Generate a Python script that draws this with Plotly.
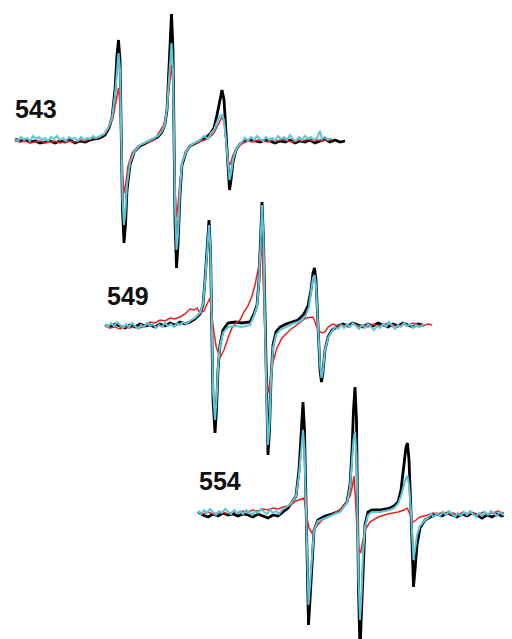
import plotly.graph_objects as go

# Spectra: (field position, signal) pairs, one list per trace.
# Group labels
LABELS = ["543", "549", "554"]

G543_BLACK = [(15,139),(20,141),(25,140),(30,142),(35,141),(40,143),(45,142),(50,141),(55,143),(60,141),(65,142),(70,140),(75,143),(80,141),(85,142),(90,140),(95,139),(100,138),
              (105,135),(109,128),(112,118),(115,90),(117,55),(118.5,40),(120,60),(121,140),(122.5,210),(124,243),(125.5,225),(127,190),(130,165),(134,152),(140,146),(148,142),(155,139),
              (158,137),(162,132),(165,124),(167,110),(169,70),(170.5,30),(171.5,14),(173,50),(174,140),(175,220),(176.5,268),(178,245),(180,195),(182,165),(186,152),(190,146),(196,143),
              (200,141),(205,138),(210,134),(214,128),(217,115),(220,98),(222,90),(224,100),(226,135),(228,175),(229.5,190),(231,180),(233,162),(236,150),(240,144),
              (245,141),(250,140),(255,141),(260,142),(265,140),(270,141),(275,143),(280,141),(285,142),(290,140),(295,143),(300,141),(305,142),(310,140),(315,143),(320,141),(325,139),(330,142),(335,140),(340,142),(345,141)]

G543_RED = [(15,141),(20,142),(25,141),(30,143),(35,142),(40,141),(45,143),(50,142),(55,141),(60,143),(65,142),(70,141),(75,142),(80,140),(85,141),(90,139),(95,138),(100,137),
            (105,134),(109,127),(113,118),(116,100),(118.5,88),(120,105),(121,140),(122.5,175),(124,193),(126,182),(128,166),(132,153),(138,146),(145,143),(152,141),(157,136),
            (160,131),(164,124),(167,110),(169,90),(170.5,70),(171.5,65),(173,85),(174,140),(175,190),(176.5,217),(178,205),(180,180),(183,160),(187,150),(192,145),(198,142),
            (205,140),(210,137),(214,133),(217,127),(220,120),(222,117),(224,122),(226,140),(228,160),(229.5,165),(231,162),(233,155),(238,147),
            (243,143),(248,141),(253,142),(258,140),(263,141),(268,142),(273,140),(278,141),(283,139),(288,141),(293,142),(298,140),(303,141),(308,139),(313,141),(318,140),(323,141),(328,139),(333,140)]

G543_CYAN = [(15,139),(18,141),(21,137),(24,140),(27,138),(30,141),(33,136),(36,139),(39,137),(42,140),(45,138),(48,141),(51,137),(54,139),(57,136),(60,140),(63,138),(66,141),(69,137),(72,139),(75,138),(78,141),(81,137),(84,140),(87,138),(90,139),(93,136),(96,138),(100,136),
             (104,134),(108,128),(112,118),(115,95),(117,65),(118.5,53),(120,70),(121,140),(122.5,200),(124,225),(125.5,210),(127,185),(130,163),(134,152),(140,145),(148,141),(155,138),
             (158,136),(162,131),(165,124),(167,108),(169,75),(170.5,50),(171.5,43),(173,70),(174,140),(175,205),(176.5,250),(178,235),(180,190),(182,163),(186,152),(190,146),(196,142),
             (200,140),(204,136),(208,139),(211,133),(214,130),(217,122),(220,116),(222,115),(224,120),(226,140),(228,168),(229.5,180),(231,174),(233,160),(236,150),(239,145),
             (242,142),(245,138),(248,141),(251,137),(254,140),(257,136),(260,139),(263,141),(266,137),(269,140),(272,138),(275,141),(278,136),(281,139),(284,137),(287,140),(290,135),(293,139),(296,141),(299,137),(302,140),(305,136),(308,139),(311,137),(314,140),(317,138),(320,131),(322,139),(325,137),(328,140),(331,138)]

G549_BLACK = [(105,325),(110,327),(115,324),(120,326),(125,328),(130,325),(135,327),(140,324),(145,326),(150,325),(155,327),(160,324),(165,326),(170,323),(175,325),(180,322),(185,324),(190,322),
              (195,319),(200,314),(203,305),(205,280),(207,245),(209,220),(210.5,250),(211.5,325),(213,400),(215,433),(216.5,410),(218,370),(220,345),(223,330),(228,323),(235,322),(242,323),(250,322),
              (254,314),(257,305),(259,280),(260.5,240),(262,202),(263.5,240),(265,325),(266.5,410),(268,455),(269.5,430),(271,380),(273,345),(276,332),(280,327),(286,324),(292,322),(298,320),
              (300,318),(304,314),(308,306),(311,290),(313,273),(314.5,268),(316,280),(318,325),(320,370),(321.5,382),(323,372),(325,350),(328,337),(332,330),
              (338,326),(343,324),(348,326),(353,323),(358,325),(363,327),(368,324),(373,326),(378,323),(383,325),(388,327),(393,324),(398,326),(403,323),(408,325),(413,327),(418,324),(423,325)]

G549_RED = [(105,326),(110,328),(115,327),(120,329),(125,327),(130,328),(135,326),(140,328),(145,326),(150,322),(155,323),(160,320),(165,321),(170,318),(175,319),(180,317),(185,314),
            (190,309),(194,310),(197,308),(200,313),(204,311),(207,304),(210,298),(212,318),(216,346),(220,358),(224,350),(228,338),(232,328),(236,323),(240,320),(244,312),(248,306),
            (252,296),(255,285),(258,270),(260,258),(262,247),(263.5,290),(265,345),(266.5,380),(268,393),(270,382),(273,362),(277,348),(282,338),(290,330),(300,322),(306,318),(313,317),(315,322),(318,330),(322,333),(325,332),
            (328,327),(333,324),(338,326),(343,325),(348,327),(353,324),(358,326),(363,325),(368,327),(373,324),(378,326),(383,325),(388,323),(393,325),(398,327),(403,324),(408,326),(413,323),(418,325),(423,326),(428,324),(432,325)]

G549_CYAN = [(105,324),(108,327),(111,323),(114,326),(117,322),(120,325),(123,328),(126,324),(129,327),(132,323),(135,326),(138,329),(141,325),(144,327),(147,323),(150,326),(153,324),(156,328),(159,325),(162,327),(165,323),(168,326),(171,324),(174,327),(177,323),(180,325),(183,322),(186,324),(190,321),
             (195,318),(200,313),(203,304),(205,282),(207,250),(209,225),(210.5,250),(211.5,325),(213,390),(215,420),(216.5,400),(218,368),(220,346),(223,333),(228,327),(235,326),(242,327),(250,325),
             (254,316),(257,306),(259,282),(260.5,245),(262,205),(263.5,240),(265,325),(266.5,400),(268,445),(269.5,425),(271,380),(273,348),(276,335),(280,330),(286,327),(292,324),(298,322),
             (302,320),(306,315),(309,307),(311,292),(313,278),(314.5,275),(316,285),(318,325),(320,365),(321.5,378),(323,370),(325,350),(328,338),(332,331),
             (335,327),(338,329),(341,325),(344,328),(347,324),(350,327),(353,323),(356,326),(359,329),(362,325),(365,328),(368,324),(371,327),(374,330),(377,326),(380,328),(383,324),(386,327),(389,322),(392,326),(395,329),(398,325),(401,327),(404,323),(407,326),(410,324),(413,328),(416,325),(419,327),(423,325)]

G554_BLACK = [(198,512),(203,515),(208,517),(213,514),(218,516),(223,513),(228,515),(233,514),(238,516),(243,514),(248,515),(253,517),(258,514),(263,516),(268,518),(273,515),(278,516),(283,512),(288,508),
              (292,502),(296,496),(299,470),(301,430),(303,402),(304.5,430),(306,512),(307,580),(308.5,625),(310,600),(312,560),(314,530),(318,520),(325,516),(332,514),(340,511),
              (343,507),(347,502),(350,485),(352,450),(353.5,410),(355,387),(356.5,420),(357.5,512),(358.5,590),(360,650),(361.5,610),(363,560),(365,525),(368,512),(372,510),(380,510),(390,508),
              (394,506),(398,502),(401,490),(404,465),(406,447),(407.5,443),(409,460),(411,512),(412.5,570),(413.5,587),(415,570),(417,545),(420,528),(425,520),
              (432,516),(437,514),(442,516),(447,513),(452,515),(457,517),(462,514),(467,516),(472,513),(477,515),(482,518),(487,515),(492,517),(497,514),(502,516),(507,513),(512,515)]

G554_RED = [(198,513),(203,514),(208,512),(213,514),(218,513),(223,512),(228,514),(233,512),(238,513),(243,511),(248,512),(253,510),(258,511),(263,509),(268,510),(273,508),(278,509),(283,507),(288,506),
            (292,504),(296,501),(301,499),(304,498),(306,512),(309,528),(312,533),(316,527),(322,520),(330,516),(336,512),
            (342,508),(346,503),(350,496),(352,488),(354,476),(355.5,500),(357,530),(359,550),(360.5,553),(362,545),(365,530),(370,522),(378,517),(388,514),
            (398,512),(404,510),(407,508),(409,512),(411,518),(413,522),(416,520),(420,517),
            (428,515),(433,513),(438,514),(443,512),(448,514),(453,513),(458,515),(463,512),(468,514),(473,513),(478,515),(483,512),(488,514),(493,513),(498,511),(503,513),(508,512),(512,513)]

G554_CYAN = [(198,511),(201,514),(204,510),(207,513),(210,509),(213,512),(216,515),(219,511),(222,513),(225,509),(228,512),(231,514),(234,510),(237,513),(240,511),(243,514),(246,510),(249,512),(252,515),(255,511),(258,513),(261,509),(264,512),(267,514),(270,510),(273,513),(276,511),(279,514),(282,510),(285,508),(288,506),
             (292,502),(296,496),(299,475),(301,450),(303,430),(304.5,450),(306,512),(307,570),(308.5,605),(310,585),(312,552),(314,530),(318,521),(325,518),(332,515),(340,512),
             (343,508),(347,503),(350,487),(352,460),(353.5,440),(355,432),(356.5,455),(357.5,512),(358.5,580),(360,620),(361.5,595),(363,555),(365,527),(368,515),(372,512),(380,512),(390,510),
             (394,508),(398,504),(401,496),(404,484),(406,478),(407.5,476),(409,485),(411,512),(412.5,545),(413.5,560),(415,550),(417,535),(420,526),(425,520),
             (428,518),(431,514),(434,517),(437,513),(440,516),(443,512),(446,515),(449,511),(452,514),(455,517),(458,513),(461,516),(464,512),(467,515),(470,511),(473,514),(476,517),(479,513),(482,516),(485,512),(488,515),(491,511),(494,514),(497,516),(500,512),(503,515),(506,511),(509,514),(512,512)]

GROUPS = [
    (G543_BLACK, G543_RED, G543_CYAN),
    (G549_BLACK, G549_RED, G549_CYAN),
    (G554_BLACK, G554_RED, G554_CYAN),
]

STYLES = [("#000000", 2.8), ("#e8231f", 1.5), ("#58c6dc", 2.0)]

fig = go.Figure()
for grp in GROUPS:
    for pts, (col, w) in zip(grp, STYLES):
        fig.add_trace(go.Scatter(
            x=[p[0] for p in pts], y=[p[1] for p in pts],
            mode="lines", line=dict(color=col, width=w, shape="linear"),
            hoverinfo="skip", showlegend=False))

label_pos = [(13, 109), (105, 296), (197, 481)]
for txt, (lx, ly) in zip(LABELS, label_pos):
    fig.add_annotation(x=lx, y=ly, text="<b>%s</b>" % txt, showarrow=False,
                       xanchor="left", yanchor="middle",
                       font=dict(family="Liberation Sans, Arial, sans-serif", size=25, color="#111111"))

# The page body adds an 8 px margin; shift the ranges so the drawing lands where the reference has it.
fig.update_layout(
    width=512, height=639,
    margin=dict(l=0, r=0, t=0, b=0),
    paper_bgcolor="white", plot_bgcolor="white",
    xaxis=dict(range=[8, 520], visible=False, fixedrange=True),
    yaxis=dict(range=[647, 8], visible=False, fixedrange=True),
)
fig.write_html("out.html")
